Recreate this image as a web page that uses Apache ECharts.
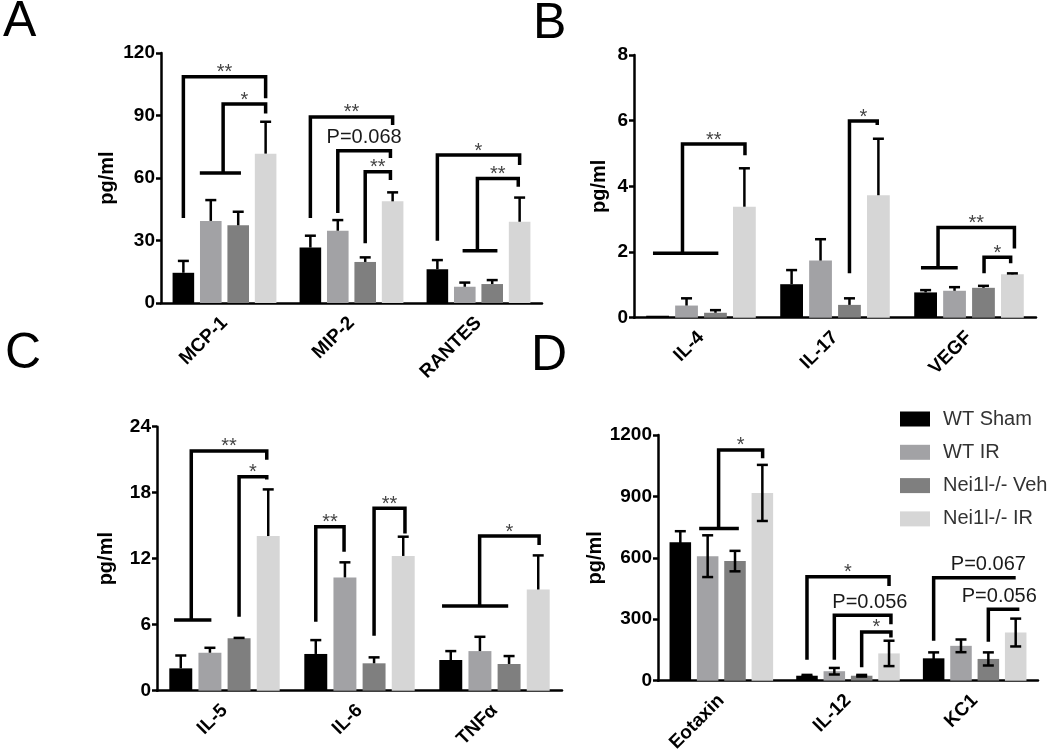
<!DOCTYPE html>
<html>
<head>
<meta charset="utf-8">
<script src="https://cdn.jsdelivr.net/npm/echarts@6/dist/echarts.min.js"></script>
<style>html,body{margin:0;padding:0;background:#fff}#c{width:1050px;height:755px}</style>
</head>
<body>
<div id="c"></div>
<script>
// ---------- data ----------
const groups = ['WT Sham', 'WT IR', 'Nei1l-/- Veh', 'Nei1l-/- IR'];

// Panel A
const catsA = ['MCP-1', 'MIP-2', 'RANTES'];
const ticksA = [0, 30, 60, 90, 120];
const meansA = [[14.5, 26.6, 16.2], [39.4, 34.7, 7.8], [37.3, 19.7, 9.1], [71.7, 48.8, 39.0]];
const errsA = [[5.7, 5.7, 4.4], [10.0, 5.1, 2.0], [6.5, 2.2, 1.9], [15.3, 4.3, 11.6]];
// [category, xLeft(bar units), yLeft, yTop, xRight, yRight, label, tFrom, tTo, labelX]
const bracketsA = [
  [0, 0, 40.8, 108.6, 3, 98.3, '**'],
  [0, 1.45, 62.4, 95.5, 3, 91, '*', 0.6, 2.1],
  [1, 0, 40.8, 89.3, 3, 85.4, '**'],
  [1, 1, 43.2, 73.1, 2.92, 69.6, 'P=0.068'],
  [1, 2, 28.7, 63, 2.92, 59, '**'],
  [2, 0, 29.9, 71, 3, 66.2, '*'],
  [2, 1.46, 25.1, 59.8, 2.95, 55.8, '**', 0.92, 2.19]
];

// Panel B
const catsB = ['IL-4', 'IL-17', 'VEGF'];
const ticksB = [0, 2, 4, 6, 8];
const meansB = [[0.06, 1.02, 0.77], [0.37, 1.74, 0.82], [0.15, 0.39, 0.91], [3.38, 3.73, 1.32]];
const errsB = [[0, 0.43, 0.07], [0.22, 0.65, 0.11], [0.08, 0.20, 0.06], [1.17, 1.72, 0.03]];
const bracketsB = [
  [0, 0.86, 1.96, 5.29, 3.02, 4.95, '**', -0.16, 2.1],
  [1, 2, 1.35, 5.99, 2.96, 5.87, '*'],
  [2, 0.43, 1.52, 2.75, 3.07, 2.11, '**', -0.16, 1.11],
  [2, 2.02, 1.35, 1.84, 2.94, 1.66, '*']
];

// Panel C
const catsC = ['IL-5', 'IL-6', 'TNF\u03b1'];
const ticksC = [0, 6, 12, 18, 24];
const meansC = [[2.03, 3.34, 2.79], [3.45, 10.3, 3.6], [4.76, 2.49, 2.43], [14.06, 12.25, 9.2]];
const errsC = [[1.17, 1.26, 0.81], [0.45, 1.37, 1.3], [0.04, 0.54, 0.72], [4.24, 1.75, 3.1]];
const bracketsC = [
  [0, 0.36, 6.43, 21.8, 2.95, 21.0, '**', -0.23, 1.05],
  [0, 2, 6.73, 19.45, 2.95, 19.2, '*'],
  [1, 0, 6.27, 14.9, 0.97, 12.64, '**'],
  [1, 2, 5.0, 16.58, 3.06, 14.3, '**'],
  [2, 0.99, 7.7, 14.06, 3.03, 13.25, '*', -0.3, 1.97]
];

// Panel D
const catsD = ['Eotaxin', 'IL-12', 'KC1'];
const ticksD = [0, 300, 600, 900, 1200];
const meansD = [[676, 24, 109], [608, 46, 170], [584, 24, 106], [917, 133, 235]];
const errsD = [[54, 4, 29], [102, 16, 31], [50, 4, 32], [137, 62, 68]];
const bracketsD = [
  [0, 1.4, 743, 1127, 3.01, 1087, '*', 0.69, 2.14],
  [1, 0, 102, 508, 3, 462, '*'],
  [1, 1, 102, 320, 3.07, 276, 'P=0.056', null, null, 2.3],
  [1, 2, 65, 238, 3.07, 211, '*'],
  [2, 0, 195, 503, 3, 503, 'P=0.067', null, null, 2.0],
  [2, 2, 190, 349, 3.07, 340, 'P=0.056', null, null, 2.4]
];

// ---------- styling ----------
const colors = ['#000000', '#a2a2a5', '#7f7f7f', '#d6d6d6'];
const FONT = "'Liberation Sans', Arial, sans-serif";
const BAR_W = 0.17, BAR_GAP = 0.27;
const PITCH = BAR_W * (1 + BAR_GAP);

const panels = [
  {cats: catsA, ticks: ticksA, means: meansA, errs: errsA, br: bracketsA, two: 0,
   grid: {left: 161, top: 53, width: 381, height: 250}, nameGap: 44},
  {cats: catsB, ticks: ticksB, means: meansB, errs: errsB, br: bracketsB, two: 0,
   grid: {left: 634, top: 55, width: 402, height: 262.7}, nameGap: 25},
  {cats: catsC, ticks: ticksC, means: meansC, errs: errsC, br: bracketsC, two: 0,
   grid: {left: 157, top: 426.7, width: 405, height: 264}, nameGap: 41},
  {cats: catsD, ticks: ticksD, means: meansD, errs: errsD, br: bracketsD, two: 1,
   grid: {left: 658, top: 435, width: 380, height: 246.7}, nameGap: 52}
];

function errRender(params, api) {
  const cat = api.value(0), bar = api.value(1), m = api.value(2), e = api.value(3), two = api.value(4);
  if (!e) return null;
  const band = api.size([1, 0])[0];
  const x = api.coord([cat, 0])[0] + (bar - 1.5) * band * PITCH;
  const yT = api.coord([cat, m + e])[1];
  const yB = api.coord([cat, two ? m - e : m])[1];
  const half = 5.5;
  const st = {stroke: '#000', lineWidth: 2.5};
  const ch = [
    {type: 'line', shape: {x1: x, y1: yT, x2: x, y2: yB}, style: st},
    {type: 'line', shape: {x1: x - half, y1: yT, x2: x + half, y2: yT}, style: st}
  ];
  if (two) ch.push({type: 'line', shape: {x1: x - half, y1: yB, x2: x + half, y2: yB}, style: st});
  return {type: 'group', children: ch};
}

function makeBracketRender(list) {
  return function (params, api) {
    const b = list[params.dataIndex];
    const cat = b[0], xl = b[1], yl = b[2], yt = b[3], xr = b[4], yr = b[5], label = b[6];
    const tFrom = b[7], tTo = b[8], lx = b[9];
    const band = api.size([1, 0])[0];
    const c = api.coord([cat, 0])[0];
    const X = v => c + (v - 1.5) * band * PITCH;
    const Y = v => api.coord([cat, v])[1];
    const st = {stroke: '#000', lineWidth: 3.5, fill: null, lineJoin: 'miter'};
    const ch = [{type: 'polyline', shape: {points: [[X(xl), Y(yl)], [X(xl), Y(yt)], [X(xr), Y(yt)], [X(xr), Y(yr)]]}, style: st}];
    if (tFrom != null) ch.push({type: 'line', shape: {x1: X(tFrom), y1: Y(yl), x2: X(tTo), y2: Y(yl)}, style: st});
    const star = label.charAt(0) === '*';
    const tx = lx != null ? X(lx) : (X(xl) + X(xr)) / 2;
    ch.push({type: 'text', style: {
      text: label, x: tx, y: Y(yt) - (star ? 4 : 13), align: 'center', verticalAlign: 'middle',
      fontSize: 20, fontFamily: FONT, fill: star ? '#444' : '#1a1a1a'
    }});
    return {type: 'group', children: ch};
  };
}

const grids = [], xAxes = [], yAxes = [], series = [];
panels.forEach((p, i) => {
  grids.push(p.grid);
  xAxes.push({
    type: 'category', gridIndex: i, data: p.cats,
    axisLine: {lineStyle: {color: '#000', width: 2.5}},
    axisTick: {alignWithLabel: true, length: 6, lineStyle: {color: '#000', width: 2.5}},
    axisLabel: {rotate: 45, fontWeight: 'bold', fontSize: 19, color: '#000', fontFamily: FONT, margin: 17}
  });
  const t = p.ticks;
  yAxes.push({
    type: 'value', gridIndex: i, min: t[0], max: t[t.length - 1], interval: t[1] - t[0],
    axisLine: {show: true, lineStyle: {color: '#000', width: 2.5}},
    axisTick: {show: true, length: 5, lineStyle: {color: '#000', width: 2.5}},
    axisLabel: {fontWeight: 'bold', fontSize: 19, color: '#000', fontFamily: FONT, margin: 6,
      formatter: v => String(v)},
    splitLine: {show: false},
    name: 'pg/ml', nameLocation: 'middle', nameGap: p.nameGap,
    nameTextStyle: {fontWeight: 'bold', fontSize: 20, color: '#000', fontFamily: FONT}
  });
  groups.forEach((g, k) => {
    series.push({
      type: 'bar', name: g, xAxisIndex: i, yAxisIndex: i, data: p.means[k],
      barWidth: (BAR_W * 100) + '%', barGap: (BAR_GAP * 100) + '%',
      itemStyle: {color: colors[k]}, silent: true
    });
  });
  const ed = [];
  groups.forEach((g, k) => p.cats.forEach((c, j) => ed.push([j, k, p.means[k][j], p.errs[k][j], p.two])));
  series.push({type: 'custom', xAxisIndex: i, yAxisIndex: i, data: ed, encode: {x: 0, y: 2},
    renderItem: errRender, clip: false, silent: true, z: 5});
  series.push({type: 'custom', xAxisIndex: i, yAxisIndex: i,
    data: p.br.map(b => [b[0], b[3]]), encode: {x: 0, y: 1},
    renderItem: makeBracketRender(p.br), clip: false, silent: true, z: 6});
});

const letters = [['A', 3, 22], ['B', 533, 24], ['C', 5, 354], ['D', 531, 356]];

const chart = echarts.init(document.getElementById('c'), null, {renderer: 'canvas'});
chart.setOption({
  animation: false,
  backgroundColor: '#fff',
  grid: grids, xAxis: xAxes, yAxis: yAxes, series: series,
  legend: {
    data: groups, orient: 'vertical', left: 900, top: 409, padding: 0,
    itemWidth: 30, itemHeight: 15, itemGap: 13.3, icon: 'rect',
    textStyle: {fontSize: 20, color: '#333', fontFamily: FONT, lineHeight: 20, padding: [0, 0, 0, 8]}
  },
  graphic: letters.map(l => ({
    type: 'text', x: l[1], y: l[2],
    style: {text: l[0], fontSize: 50, fontFamily: FONT, fill: '#000', align: 'left', verticalAlign: 'middle'}
  }))
});
</script>
</body>
</html>
